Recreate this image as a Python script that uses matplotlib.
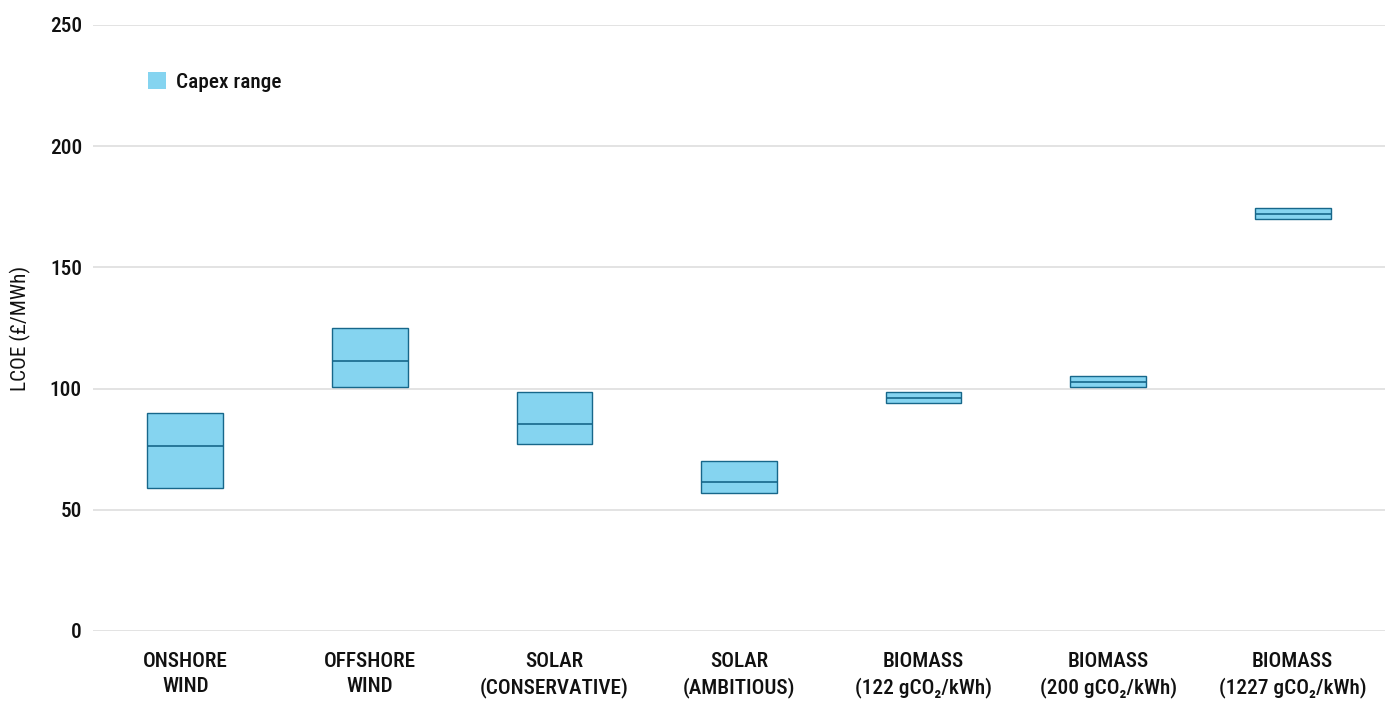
import matplotlib
matplotlib.use("Agg")
import matplotlib.pyplot as plt
from matplotlib.patches import Patch

plt.rcParams["font.family"] = ["Roboto Condensed", "Roboto", "DejaVu Sans"]
plt.rcParams["font.weight"] = "medium"

# LCOE ranges (£/MWh) across the capex range for each technology
categories = [
    "ONSHORE\nWIND",
    "OFFSHORE\nWIND",
    "SOLAR\n(CONSERVATIVE)",
    "SOLAR\n(AMBITIOUS)",
    "BIOMASS\n(122 gCO\u2082/kWh)",
    "BIOMASS\n(200 gCO\u2082/kWh)",
    "BIOMASS\n(1227 gCO\u2082/kWh)",
]
low_capex = [59.0, 100.5, 77.0, 57.0, 94.2, 100.6, 169.8]
central = [76.5, 111.5, 85.5, 61.5, 96.3, 102.7, 172.0]
high_capex = [90.0, 125.0, 98.8, 70.2, 98.5, 105.0, 174.3]
y_ticks = [0, 50, 100, 150, 200, 250]

fill_color = "#85D4F0"
edge_color = "#17678A"
text_color = "#111111"
box_width = 0.41
fs = 15.3

fig = plt.figure(figsize=(13.95, 7.02), dpi=100)
ax = fig.add_axes([93 / 1395, 1 - 631 / 702, 1292 / 1395, 606 / 702])

x = list(range(len(categories)))
heights = [h - l for h, l in zip(high_capex, low_capex)]
ax.bar(x, heights, bottom=low_capex, width=box_width, color=fill_color,
       edgecolor=edge_color, linewidth=1.0, zorder=3)
ax.hlines(central, [i - box_width / 2 for i in x], [i + box_width / 2 for i in x],
          color=edge_color, linewidth=1.2, zorder=4)

ax.set_xlim(-0.5, len(categories) - 0.5)
ax.set_ylim(0, 250)
ax.set_yticks(y_ticks)
ax.set_xticks(x)
ax.set_xticklabels(categories, fontsize=fs, linespacing=1.38, color=text_color)
ax.tick_params(axis="y", length=0, pad=8, labelsize=fs, labelcolor=text_color)
ax.tick_params(axis="x", length=0, pad=15)
ax.grid(axis="y", color="#DEDEDE", linewidth=1.2, zorder=0)
ax.set_axisbelow(True)
for s in ax.spines.values():
    s.set_visible(False)

ax.set_ylabel("LCOE (£/MWh)", fontsize=fs, color=text_color)
ax.yaxis.set_label_coords(-0.048, 0.5)

handle = Patch(facecolor=fill_color, edgecolor="none", label="Capex range")
leg = ax.legend(handles=[handle], loc="center left", bbox_to_anchor=(0.0426, 0.906),
                frameon=False, fontsize=fs, handlelength=0.85, handleheight=0.85,
                handletextpad=0.45, borderpad=0, borderaxespad=0)
for t in leg.get_texts():
    t.set_color(text_color)

fig.savefig("out.png", dpi=100)
